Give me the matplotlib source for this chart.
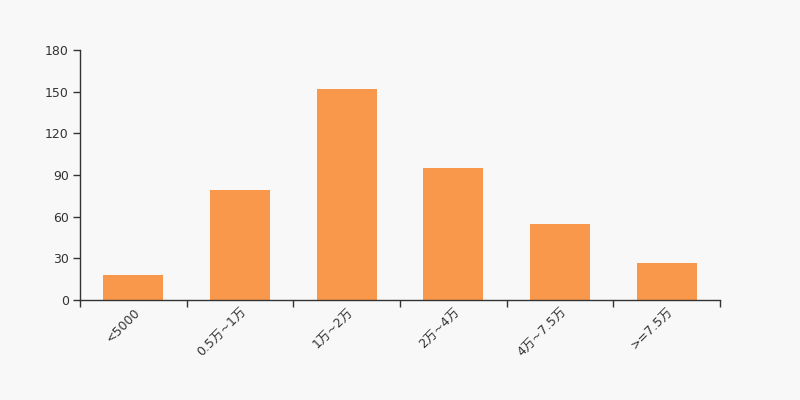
import matplotlib
matplotlib.use("Agg")
import matplotlib.pyplot as plt
import matplotlib.transforms as mtransforms
from matplotlib.ticker import FixedLocator, NullFormatter

plt.rcParams['font.family'] = ['DejaVu Sans', 'Noto Sans CJK SC']

categories = ['<5000', '0.5万~1万', '1万~2万', '2万~4万', '4万~7.5万', '>=7.5万']
values = [18, 79, 152, 95, 55, 27]
y_ticks = [0, 30, 60, 90, 120, 150, 180]

bg = '#f8f8f8'
bar_color = '#f9984a'
text_color = '#333333'

fig = plt.figure(figsize=(8, 4), dpi=100, facecolor=bg)
ax = fig.add_axes([0.1, 0.25, 0.8, 0.625], facecolor=bg)

x = list(range(len(categories)))
ax.bar(x, values, width=0.5625, color=bar_color, zorder=2)

ax.set_xlim(-0.5, len(categories) - 0.5)
ax.set_ylim(0, 180)
ax.set_yticks(y_ticks)
ax.set_yticklabels([str(v) for v in y_ticks])

ax.set_xticks(x)
ax.set_xticklabels(categories, rotation=45, ha='right', rotation_mode='anchor')
offset = mtransforms.ScaledTranslation(-3 / 72, 0, fig.dpi_scale_trans)
for lbl in ax.get_xticklabels():
    lbl.set_transform(lbl.get_transform() + offset)
ax.xaxis.set_minor_locator(FixedLocator([i - 0.5 for i in range(len(categories) + 1)]))
ax.xaxis.set_minor_formatter(NullFormatter())
ax.tick_params(axis='x', which='major', length=0, pad=4, labelsize=9, colors=text_color)
ax.tick_params(axis='x', which='minor', length=5, width=1, color=text_color, direction='out')
ax.tick_params(axis='y', which='major', length=5, width=1, color=text_color, labelcolor=text_color, labelsize=9, pad=3)

for s in ['top', 'right']:
    ax.spines[s].set_visible(False)
for s in ['left', 'bottom']:
    ax.spines[s].set_color(text_color)
    ax.spines[s].set_linewidth(1)

fig.savefig('out.png', dpi=100, facecolor=bg)
